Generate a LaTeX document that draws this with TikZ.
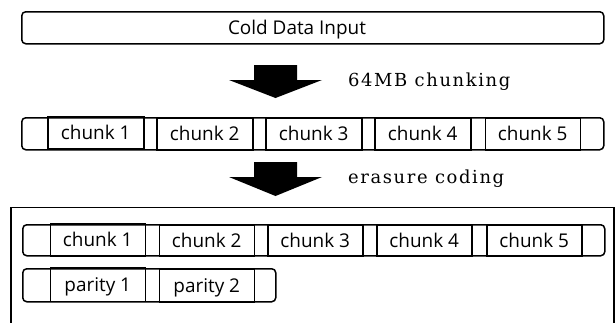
\documentclass[tikz,border=0pt]{standalone}
\usepackage{fontspec}
\setmainfont{Open Sans}
\newfontfamily\notefont[LetterSpace=9]{DejaVu Serif}
\begin{document}
\begin{tikzpicture}[x=1bp,y=-1bp,
  bar/.style={draw, line width=1.5bp, rounded corners=4bp, inner sep=0pt, anchor=north west},
  cell/.style={draw, line width=1.5bp, inner sep=0pt, anchor=north west,
    minimum width=95bp, minimum height=32bp,
    font=\fontsize{19}{21}\selectfont, text height=13.5bp, text depth=0bp},
  lbl/.style={font=\fontsize{19}{21}\selectfont, anchor=base},
  note/.style={font=\notefont\fontsize{18}{20}\selectfont, anchor=base west, inner sep=0pt},
  blockarrow/.style={fill=black, draw=none},
]
\useasboundingbox (0,0) rectangle (616,322);
% top input bar
\node[bar, minimum width=582bp, minimum height=32bp] (input) at (21,11) {};
\node[lbl] (inputtxt) at (297,34) {Cold Data Input};
% first block arrow
\fill[blockarrow] (254,65) -- (297,65) -- (297,80) -- (322,80) -- (275.5,98) -- (229,80) -- (254,80) -- cycle;
\node[note] (chunking) at (348,86) {64MB chunking};
% row 1
\node[bar, minimum width=582bp, minimum height=32bp] (row1) at (21,117) {};
\node[cell, minimum width=96bp, minimum height=32.5bp] (r1c1) at (47,115.5) {chunk 1};
\node[cell, minimum width=96bp] (r1c2) at (156,117) {chunk 2};
\node[cell, minimum width=96bp] (r1c3) at (265,117) {chunk 3};
\node[cell, minimum width=96bp] (r1c4) at (374,117) {chunk 4};
\node[cell, minimum width=95bp] (r1c5) at (484.5,117) {chunk 5};
% second block arrow
\fill[blockarrow] (254,162) -- (297,162) -- (297,177) -- (322,177) -- (275.5,196) -- (229,177) -- (254,177) -- cycle;
\node[note] (coding) at (348,183) {erasure coding};
% result frame (open at the bottom)
\draw[line width=1.9bp] (11,326) -- (11,207.5) -- (614,207.5) -- (614,326);
% row 2
\node[bar, minimum width=582bp, minimum height=31bp] (row2) at (22,224) {};
\node[cell, minimum height=32.5bp] (r2c1) at (49.5,222.5) {chunk 1};
\node[cell, minimum height=31bp] (r2c2) at (158.5,224) {chunk 2};
\node[cell, minimum height=31bp] (r2c3) at (267,224) {chunk 3};
\node[cell, minimum height=31bp] (r2c4) at (376,224) {chunk 4};
\node[cell, minimum height=31bp] (r2c5) at (486,224) {chunk 5};
% row 3
\node[bar, minimum width=253bp, minimum height=33bp] (row3) at (22,268) {};
\node[cell, minimum height=33.5bp] (p1) at (49.5,267) {parity 1};
\node[cell, minimum height=33bp] (p2) at (158.5,268) {parity 2};
\end{tikzpicture}
\end{document}
